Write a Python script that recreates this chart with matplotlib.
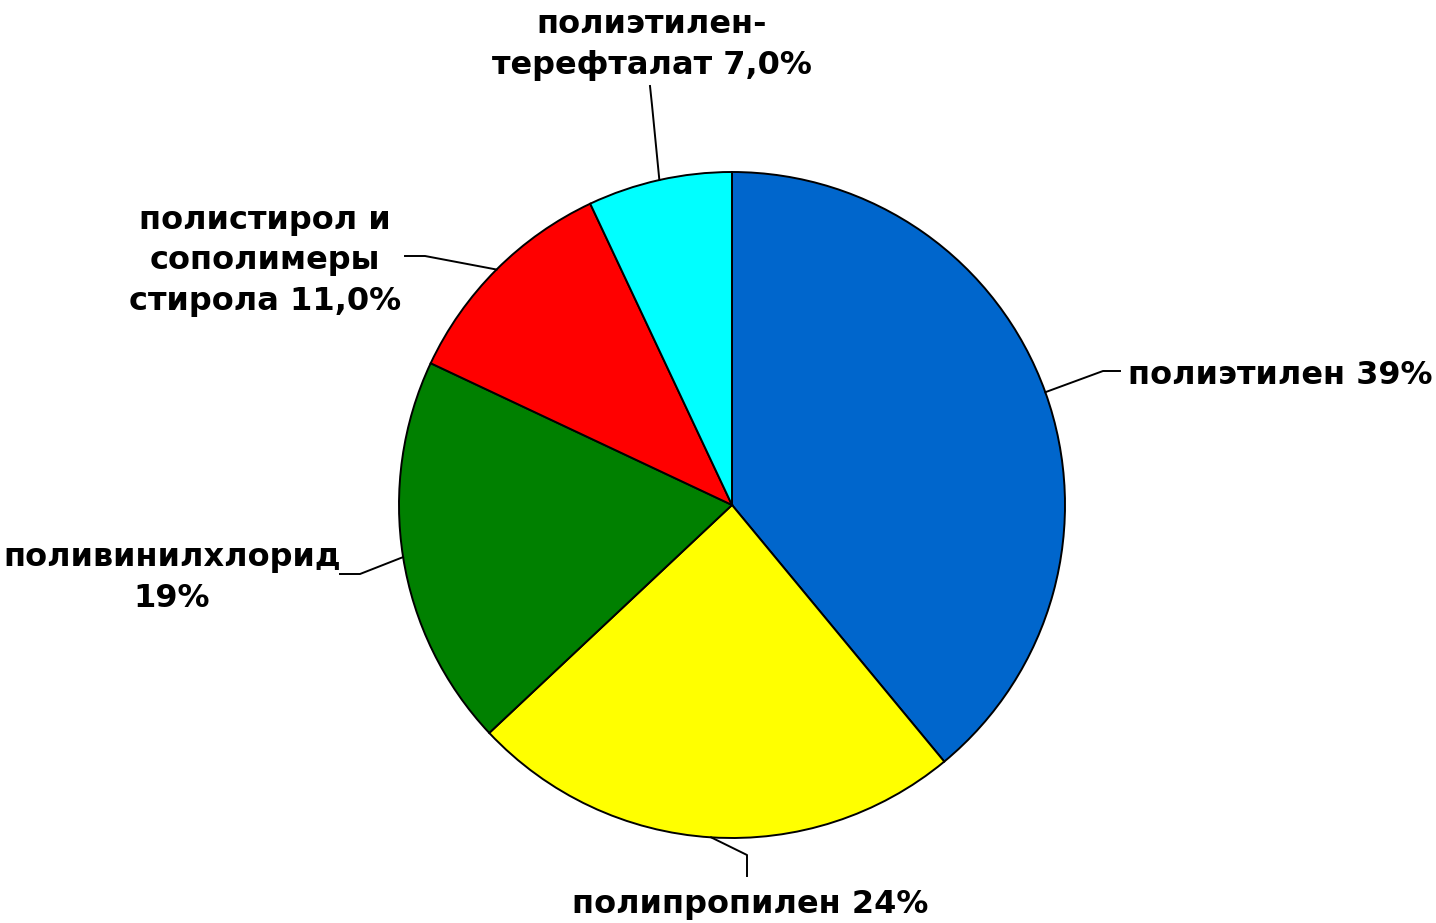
import matplotlib.pyplot as plt
import numpy as np

# shares of polymers, clockwise from the top
labels = ['полиэтилен 39%', 'полипропилен 24%', 'поливинилхлорид\n19%',
          'полистирол и\nсополимеры\nстирола 11,0%', 'полиэтилен-\nтерефталат 7,0%']
values = [39, 24, 19, 11, 7]
colors = ['#0066CC', '#FFFF00', '#008000', '#FF0000', '#00FFFF']

W, H = 1436, 923
fig = plt.figure(figsize=(W / 100, H / 100), dpi=100)
ax = fig.add_axes([0, 0, 1, 1])

cx, cy, r = 732, H - 505, 333
wedges, _ = ax.pie(values, colors=colors, startangle=90, counterclock=False,
                   center=(cx, cy), radius=r, frame=True,
                   wedgeprops=dict(edgecolor='black', linewidth=1.4))
ax.set_xlim(0, W)
ax.set_ylim(0, H)
ax.set_aspect('equal')
ax.axis('off')

# leader lines: (elbow, end) and label anchor, in pixel coords (y from top)
leaders = [
    ((1103, 371), (1120, 371), (1128, 375, 'left')),
    ((747, 855), (747, 876), (750, 905, 'center')),
    ((360, 574), (340, 574), (172, 578, 'center')),
    ((425, 256), (405, 256), (265, 261, 'center')),
    ((652, 105), (650, 86), (652, 45, 'center')),
]

for w, (elb, end, (tx, ty, ha)), lab in zip(wedges, leaders, labels):
    mid = np.deg2rad((w.theta1 + w.theta2) / 2)
    px, py = cx + r * np.cos(mid), cy + r * np.sin(mid)
    ax.plot([px, elb[0], end[0]], [py, H - elb[1], H - end[1]],
            color='black', lw=1.4)
    ax.text(tx, H - ty, lab, ha=ha, va='center', fontsize=23,
            fontweight='bold', family='DejaVu Sans', linespacing=1.38,
            multialignment='center')

fig.savefig('out.png', dpi=100)
